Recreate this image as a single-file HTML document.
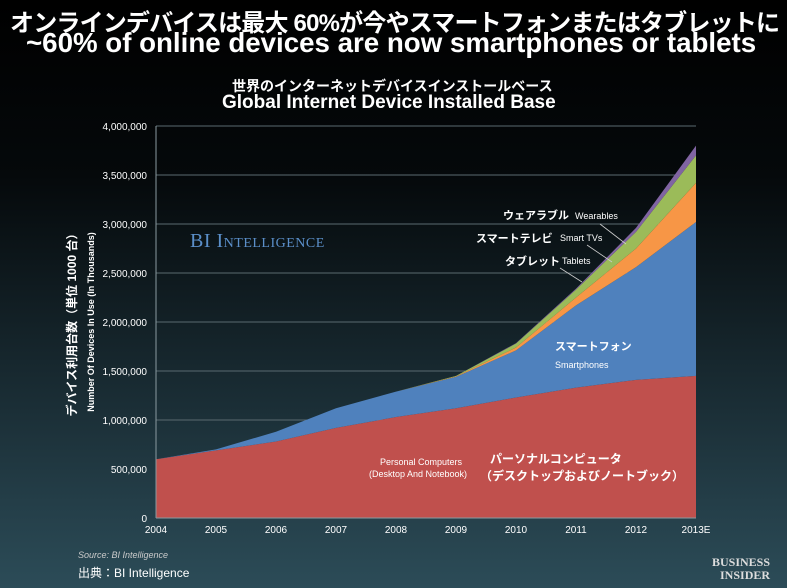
<!DOCTYPE html>
<html><head><meta charset="utf-8"><style>
html,body{margin:0;padding:0;width:787px;height:588px;overflow:hidden}
body{background:linear-gradient(180deg,#000 0%,#05090b 30%,#1b2f37 70%,#2c4c58 100%);font-family:"Liberation Sans","Noto Sans CJK JP",sans-serif;color:#fff;position:relative}
.t{position:absolute;white-space:nowrap}
</style></head><body>
<div class="t" style="left:10px;top:3px;font-size:24px;font-weight:bold;letter-spacing:-0.8px">オンラインデバイスは最大 60%が今やスマートフォンまたはタブレットに</div>
<div class="t" style="left:26px;top:27px;font-size:27.7px;font-weight:bold">~60% of online devices are now smartphones or tablets</div>
<div class="t" style="left:232px;top:76px;font-size:14px;font-weight:bold">世界のインターネットデバイスインストールベース</div>
<div class="t" style="left:222px;top:92px;font-size:19px;font-weight:bold">Global Internet Device Installed Base</div>
<div class="t" style="left:78px;top:550px;font-size:9px;font-style:italic;color:#ccc">Source: BI Intelligence</div>
<div class="t" style="left:78px;top:564px;font-size:12px">出典：BI Intelligence</div>
<div class="t" style="left:712px;top:556px;font-family:'Liberation Serif',serif;font-size:12px;font-weight:bold;line-height:13px;color:#ddd;text-align:right">BUSINESS<br>INSIDER</div>
<svg id="chart" width="787" height="588" style="position:absolute;left:0;top:0"></svg>
<script>
const years=['2004','2005','2006','2007','2008','2009','2010','2011','2012','2013E'];
const pcs=[600,690,780,920,1030,1120,1230,1330,1410,1450];
const smartphones=[0,10,100,200,260,320,480,840,1150,1570];
const tablets=[0,0,0,0,0,5,30,80,190,400];
const smartTVs=[0,0,0,0,0,5,40,80,170,280];
const wearables=[0,0,0,0,0,0,5,10,40,100];
const yTicks=[0,500000,1000000,1500000,2000000,2500000,3000000,3500000,4000000];
const NS='http://www.w3.org/2000/svg',svg=document.getElementById('chart');
const x0=156,dx=60,yb=518,yt=126,ymax=4000;
const X=i=>x0+i*dx, Y=v=>yb-(v/ymax)*(yb-yt);
function mk(t,a){const e=document.createElementNS(NS,t);for(const k in a)e.setAttribute(k,a[k]);svg.appendChild(e);return e;}
yTicks.forEach(v=>{
 const g=mk('line',{x1:x0,x2:X(9),y1:Y(v/1000),y2:Y(v/1000),stroke:'#5a6a70','stroke-width':1});
 
 
 const t=mk('text',{x:147,y:Y(v/1000)+4,'text-anchor':'end','font-size':10,fill:'#fff'});
 t.textContent=v.toLocaleString('en-US');
 
 
});
const series=[[pcs,'#c0504d','pc-area'],[smartphones,'#4f81bd','smartphone-area'],[tablets,'#f79646','tablet-area'],[smartTVs,'#9bbb59','smart-tv-area'],[wearables,'#8064a2','wearable-area']];
let base=years.map(()=>0);
series.forEach(([d,c,n])=>{
 const top=base.map((b,i)=>b+d[i]);
 let p='M'+years.map((_,i)=>X(i)+','+Y(top[i])).join(' L');
 for(let i=years.length-1;i>=0;i--)p+=' L'+X(i)+','+Y(base[i]);
 const e=mk('path',{d:p+'Z',fill:c});
 
 
 base=top;
});
mk('line',{x1:x0,x2:x0,y1:yt,y2:yb,stroke:'#8a9aa0'});
mk('line',{x1:x0,x2:X(9),y1:yb,y2:yb,stroke:'#8a9aa0'});
years.forEach((y,i)=>{
 const t=mk('text',{x:X(i),y:533,'text-anchor':'middle','font-size':10,fill:'#fff'});
 t.textContent=y;
 
 
});
function txt(s,x,y,sz,opt){const t=mk('text',Object.assign({x:x,y:y,'font-size':sz,fill:'#fff'},opt||{}));t.textContent=s;return t;}
let a=txt('デバイス利用台数（単位 1000 台）',0,0,12,{transform:'translate(76,322) rotate(-90)','text-anchor':'middle','font-weight':'bold'});

a=txt('Number Of Devices In Use (In Thousands)',0,0,9,{transform:'translate(94,322) rotate(-90)','text-anchor':'middle','font-weight':'bold'});

a=txt('BI Intelligence',190,247,20,{fill:'#5b8fc9','font-family':'Liberation Serif, serif','font-variant':'small-caps','letter-spacing':'0.5'});

[['ウェアラブル',503,219,11,'wearables-label-jp',1],['Wearables',575,219,9,'wearables-label',0],['スマートテレビ',476,242,11,'smart-tv-label-jp',1],['Smart TVs',560,241,9,'smart-tv-label',0],['タブレット',505,265,11,'tablets-label-jp',1],['Tablets',562,264,9,'tablets-label',0],['スマートフォン',555,350,11,'smartphones-label-jp',1],['Smartphones',555,368,9,'smartphones-label',0],['Personal Computers',380,465,9,'pc-label',0],['(Desktop And Notebook)',369,477,9,'pc-label-2',0],['パーソナルコンピュータ',490,463,12,'pc-label-jp',1],['（デスクトップおよびノートブック）',480,480,12,'pc-label-jp-2',1]].forEach(([s,x,y,sz,n,b])=>{
 const t=txt(s,x,y,sz,b?{'font-weight':'bold'}:{});});
[[600,224,626,244],[587,245,612,262],[560,268,582,282]].forEach(l=>mk('line',{x1:l[0],y1:l[1],x2:l[2],y2:l[3],stroke:'#ccc','stroke-width':0.8}));
</script>
</body></html>
